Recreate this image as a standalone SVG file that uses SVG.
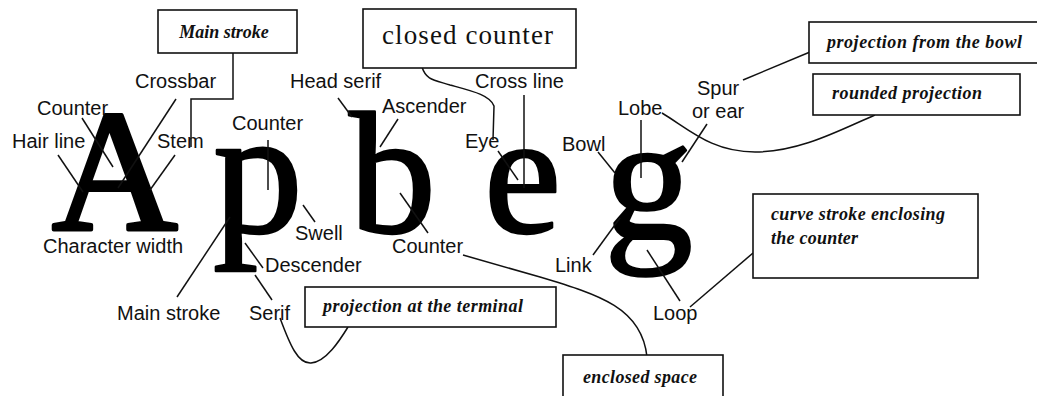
<svg xmlns="http://www.w3.org/2000/svg" width="1037" height="396" viewBox="0 0 1037 396">
  <style>
    .glyph { font-family: "Liberation Serif", "Times New Roman", serif; font-size: 174px; fill: #000; stroke: #000; stroke-width: 2.5; stroke-linejoin: round; }
    .lbl { font-family: "Liberation Sans", Arial, sans-serif; font-size: 20px; fill: #111; }
    .note { font-family: "Liberation Serif", "Times New Roman", serif; font-style: italic; font-weight: bold; font-size: 18px; fill: #111; }
    .box { fill: #fff; stroke: #111; stroke-width: 1.6; }
    .lead { fill: none; stroke: #111; stroke-width: 1.5; }
  </style>
  <rect width="1037" height="396" fill="#fff"/>

  <!-- specimen letters -->
  <g id="letters">
    <text class="glyph" x="52" y="230" style="stroke-width:4">A</text>
    <text class="glyph" x="213" y="233" style="font-size:180px">p</text>
    <text class="glyph" x="349" y="232">b</text>
    <text class="glyph" x="484" y="232">e</text>
    <text class="glyph" x="604" y="238" style="font-size:178px">g</text>
  </g>

  <!-- leader lines and curved callouts -->
  <g id="connectors">
    <!-- A -->
    <line class="lead" x1="82" y1="118" x2="113" y2="167"/>
    <line class="lead" x1="58" y1="155" x2="83" y2="192"/>
    <line class="lead" x1="176" y1="99" x2="118" y2="188"/>
    <line class="lead" x1="175" y1="155" x2="150" y2="190"/>
    <polyline class="lead" points="233,53 233,99 191,99 191,147"/>
    <!-- p -->
    <line class="lead" x1="268" y1="140" x2="268" y2="190"/>
    <line class="lead" x1="303" y1="205" x2="315" y2="222"/>
    <line class="lead" x1="245" y1="243" x2="263" y2="268"/>
    <line class="lead" x1="177" y1="297" x2="230" y2="217"/>
    <line class="lead" x1="272" y1="300" x2="255" y2="275"/>
    <path class="lead" d="M280,318 C290,345 298,364 311,363 C326,362 340,340 348,327"/>
    <!-- b -->
    <line class="lead" x1="338" y1="98" x2="352" y2="117"/>
    <line class="lead" x1="398" y1="119" x2="380" y2="147"/>
    <line class="lead" x1="400" y1="193" x2="428" y2="233"/>
    <path class="lead" d="M463,255 L540,277 C600,295 642,308 647,357"/>
    <!-- e -->
    <path class="lead" d="M422,67 C426,80 434,80 450,85 C472,91 490,95 494,106 L493,140"/>
    <line class="lead" x1="524" y1="95" x2="524" y2="188"/>
    <line class="lead" x1="498" y1="151" x2="518" y2="180"/>
    <!-- g -->
    <line class="lead" x1="598" y1="152" x2="615" y2="173"/>
    <line class="lead" x1="641" y1="120" x2="641" y2="178"/>
    <line class="lead" x1="707" y1="124" x2="682" y2="162"/>
    <line class="lead" x1="743" y1="80" x2="810" y2="52"/>
    <path class="lead" d="M662,113 C690,130 712,152 755,152 C800,152 840,130 875,115"/>
    <line class="lead" x1="593" y1="255" x2="620" y2="218"/>
    <line class="lead" x1="680" y1="301" x2="647" y2="250"/>
    <line class="lead" x1="690" y1="307" x2="753" y2="253"/>
  </g>

  <!-- part names -->
  <g id="labels">
    <text class="lbl" x="135" y="88">Crossbar</text>
    <text class="lbl" x="37" y="115">Counter</text>
    <text class="lbl" x="12" y="148">Hair line</text>
    <text class="lbl" x="157" y="148">Stem</text>
    <text class="lbl" x="43" y="253">Character width</text>
    <text class="lbl" x="232" y="130">Counter</text>
    <text class="lbl" x="290" y="88">Head serif</text>
    <text class="lbl" x="382" y="113">Ascender</text>
    <text class="lbl" x="475" y="88">Cross line</text>
    <text class="lbl" x="465" y="148">Eye</text>
    <text class="lbl" x="562" y="151">Bowl</text>
    <text class="lbl" x="618" y="115">Lobe</text>
    <text class="lbl" x="697" y="95">Spur</text>
    <text class="lbl" x="692" y="118">or ear</text>
    <text class="lbl" x="295" y="240">Swell</text>
    <text class="lbl" x="392" y="253">Counter</text>
    <text class="lbl" x="265" y="272">Descender</text>
    <text class="lbl" x="555" y="272">Link</text>
    <text class="lbl" x="117" y="320">Main stroke</text>
    <text class="lbl" x="249" y="320">Serif</text>
    <text class="lbl" x="653" y="320">Loop</text>
  </g>

  <!-- definition boxes -->
  <g id="box-main-stroke">
    <rect class="box" x="158" y="10" width="139" height="43"/>
    <text class="note" x="224" y="38" text-anchor="middle">Main stroke</text>
  </g>
  <g id="box-closed-counter">
    <rect class="box" x="363" y="9" width="213" height="59"/>
    <text x="382" y="44" textLength="171" style="font-family:'Liberation Serif','Times New Roman',serif;font-size:27px;fill:#111">closed counter</text>
  </g>
  <g id="box-projection-bowl">
    <rect class="box" x="809" y="22" width="240" height="41"/>
    <text class="note" x="827" y="48" textLength="195">projection from the bowl</text>
  </g>
  <g id="box-rounded-projection">
    <rect class="box" x="813" y="74" width="207" height="41"/>
    <text class="note" x="832" y="99" textLength="150">rounded projection</text>
  </g>
  <g id="box-curve-stroke">
    <rect class="box" x="753" y="194" width="225" height="84"/>
    <text class="note" x="771" y="220" textLength="174">curve stroke enclosing</text>
    <text class="note" x="771" y="244" textLength="87">the counter</text>
  </g>
  <g id="box-terminal">
    <rect class="box" x="305" y="287" width="251" height="40"/>
    <text class="note" x="323" y="312" textLength="200">projection at the terminal</text>
  </g>
  <g id="box-enclosed-space">
    <rect class="box" x="563" y="355" width="160" height="60"/>
    <text class="note" x="583" y="383" textLength="114">enclosed space</text>
  </g>
</svg>
